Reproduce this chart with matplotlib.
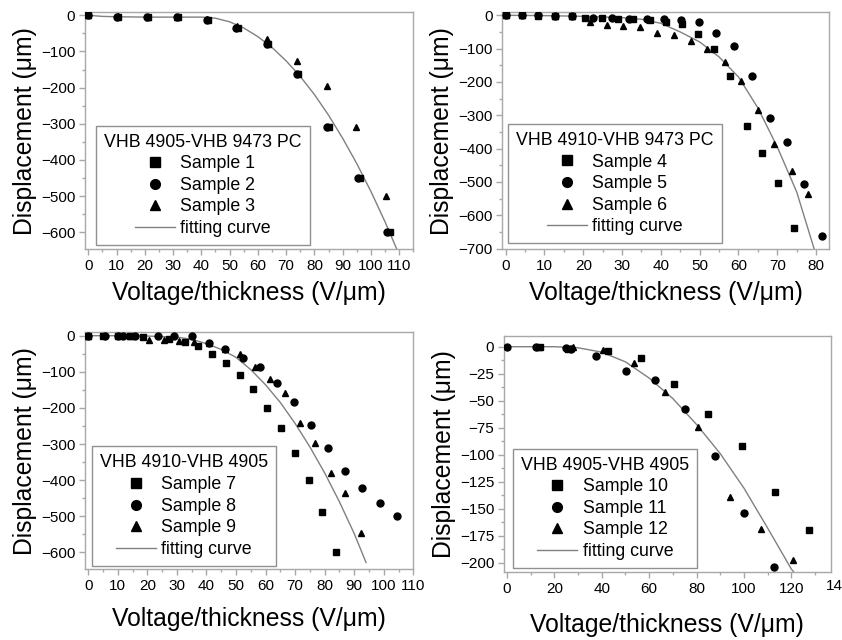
import matplotlib
matplotlib.use('Agg')
import matplotlib.pyplot as plt
from matplotlib.ticker import MultipleLocator

plt.rcParams['font.family'] = ['Liberation Sans', 'DejaVu Sans']

# ---- panel 1: VHB 4905-VHB 9473 PC ----
p1_s1_x = [0, 10.6, 21.2, 31.9, 42.5, 53, 63.7, 74.3, 85.3, 96.2, 106.6]
p1_s1_y = [0, -3.7, -5.5, -5.5, -13, -36, -80, -163, -310, -449, -598]
p1_s2_x = [0, 10.3, 20.8, 31.4, 42, 52.4, 63.2, 73.7, 84.4, 95.3, 105.7]
p1_s2_y = [0, -3.5, -5, -5, -12, -35, -80, -163, -310, -449, -598]
p1_s3_x = [0, 10.5, 21, 31.5, 42, 52.7, 63.1, 73.8, 84.3, 94.8, 105.3]
p1_s3_y = [0, -3, -4, -5, -10, -29, -66, -126, -195, -308, -499]
p1_fit_x = [0, 5, 10, 20, 30, 40, 45, 50, 55, 60, 65, 70, 75, 80, 85, 90, 95, 100, 105, 110]
p1_fit_y = [0, -3, -4, -5, -5, -5, -8, -18, -35, -59, -89, -126, -169, -219, -276, -340, -410, -487, -571, -662]

# ---- panel 2: VHB 4910-VHB 9473 PC ----
p2_s4_x = [0, 4.3, 8.4, 12.7, 17, 20.4, 24.7, 28.9, 32.9, 37.2, 41.3, 45.4, 49.5, 53.7, 57.9, 62.1, 66.1, 70.3, 74.3]
p2_s4_y = [0, 0, -1, -2, -2, -7, -8, -11, -12, -14, -20, -25, -55, -100, -182, -332, -412, -502, -637]
p2_s5_x = [0, 4.3, 8.4, 12.7, 17, 22.6, 27.3, 31.9, 36.3, 40.8, 45.2, 49.8, 54.2, 58.8, 63.4, 68, 72.4, 76.9, 81.6]
p2_s5_y = [0, 0, 0, -1, -1, -8, -8, -10, -10, -10, -13, -20, -52, -91, -182, -309, -379, -507, -662]
p2_s6_x = [0, 4.3, 8.4, 12.7, 17, 21.7, 26, 30.3, 34.6, 39.1, 43.4, 47.8, 51.9, 56.4, 60.7, 64.9, 69.2, 73.7, 78]
p2_s6_y = [0, 0, 0, -1, -1, -20, -29, -31, -34, -52, -60, -78, -101, -141, -196, -284, -386, -466, -536]
p2_fit_x = [0, 10, 20, 30, 35, 40, 45, 50, 55, 60, 65, 70, 75, 80]
p2_fit_y = [0, -1, -3, -7, -12, -24, -50, -80, -125, -185, -278, -395, -530, -720]

# ---- panel 3: VHB 4910-VHB 4905 ----
p3_s7_x = [0, 5, 10, 14, 18.5, 27.4, 32.6, 37.2, 41.9, 46.6, 51.3, 55.9, 60.5, 65.2, 69.9, 74.6, 79.2, 83.9]
p3_s7_y = [0, 0, 0, -1, -3, -9, -17, -28, -52, -77, -109, -147, -201, -255, -324, -400, -489, -600]
p3_s8_x = [0, 5.5, 10, 11.7, 15.7, 23.5, 29.1, 35, 40.8, 46.3, 52.2, 58.2, 63.8, 69.5, 75.4, 81.1, 86.8, 92.6, 98.6, 104.4]
p3_s8_y = [0, 0, 0, 0, -1, -1, 0, 0, -21, -38, -63, -88, -130, -185, -247, -311, -376, -423, -464, -499]
p3_s9_x = [0, 14, 20.7, 25.7, 30.8, 35.8, 40.8, 46.2, 51.5, 56.5, 61.5, 66.6, 71.6, 76.8, 82, 87, 92.3]
p3_s9_y = [0, -1, -12, -12, -14, -18, -21, -36, -51, -88, -121, -158, -243, -296, -380, -436, -546]
p3_fit_x = [0, 10, 20, 30, 35, 40, 45, 50, 55, 60, 65, 70, 75, 80, 85, 90, 94]
p3_fit_y = [0, 0, -1, -4, -10, -22, -38, -60, -94, -136, -185, -243, -308, -380, -460, -548, -628]

# ---- panel 4: VHB 4905-VHB 4905 ----
p4_s10_x = [14.1, 25.7, 42.5, 56.4, 70.7, 84.8, 99, 113, 127.4]
p4_s10_y = [0, -2.2, -3.7, -10.8, -34.6, -62.4, -92, -134.5, -169.7]
p4_s11_x = [0, 12.2, 25, 27, 37.6, 50.2, 62.4, 75.3, 87.6, 100.2, 112.5]
p4_s11_y = [0, -0.6, -1.5, -2, -8.7, -22.6, -30.9, -57.8, -101, -153.6, -203.7]
p4_s12_x = [13.5, 28, 40.4, 53.6, 66.9, 80.6, 94.2, 107.4, 120.7]
p4_s12_y = [0, 0, -3, -15.5, -42, -74, -139, -169, -198]
p4_fit_x = [0, 10, 20, 30, 40, 50, 60, 70, 80, 90, 100, 110, 120, 123]
p4_fit_y = [0, 0, 0, -1, -5, -14, -29, -48, -72, -99, -131, -168, -206, -214]

W, H = 842, 640
fig = plt.figure(figsize=(W / 100, H / 100), dpi=100)

GRAY = '#a8a8a8'
FIT = '#808080'


def px_axes(l, t, r, b):
    return fig.add_axes([l / W, 1 - b / H, (r - l) / W, (b - t) / H])


def panel(rect, xlim, ylim, xstep, ystep, series, fit, title, leg_box, xpad):
    ax = px_axes(*rect)
    ax.plot(fit[0], fit[1], color=FIT, lw=1.0, zorder=2)
    handles = []
    for (xs, ys, mk, lab) in series:
        h, = ax.plot(xs, ys, ls='none', marker=mk, ms=5, color='black',
                     mec='black', zorder=3, label=lab)
        handles.append(h)
    fit_h, = ax.plot([], [], color=FIT, lw=1.0, label='fitting curve')
    handles.append(fit_h)
    ax.set_xlim(*xlim)
    ax.set_ylim(*ylim)
    ax.xaxis.set_major_locator(MultipleLocator(xstep))
    ax.xaxis.set_minor_locator(MultipleLocator(xstep / 2))
    ax.yaxis.set_major_locator(MultipleLocator(ystep))
    ax.yaxis.set_minor_locator(MultipleLocator(ystep / 2))
    for sp in ax.spines.values():
        sp.set_color(GRAY)
        sp.set_linewidth(1.0)
    ax.tick_params(which='both', direction='out', color=GRAY, labelsize=11,
                   top=False, right=False)
    ax.tick_params(which='major', length=4, width=1, pad=3)
    ax.tick_params(which='minor', length=2.5, width=1)
    ax.set_xlabel('Voltage/thickness (V/μm)', fontsize=17.8, labelpad=xpad)
    ax.set_ylabel('Displacement (μm)', fontsize=17.8, labelpad=3)
    leg = ax.legend(handles, [h.get_label() for h in handles], title=title,
                    loc='lower left', bbox_to_anchor=leg_box, borderaxespad=0,
                    fontsize=12.8, title_fontsize=12.8, fancybox=False,
                    edgecolor='#909090', framealpha=1, handlelength=2.25,
                    handletextpad=0.3, labelspacing=0.26, markerscale=1.4,
                    borderpad=0.45)
    leg.get_frame().set_linewidth(1.0)
    return ax


panel((85, 12.3, 413.3, 249.3), (-1.17, 115), (-647, 8.3), 10, 100,
      [(p1_s1_x, p1_s1_y, 's', 'Sample 1'),
       (p1_s2_x, p1_s2_y, 'o', 'Sample 2'),
       (p1_s3_x, p1_s3_y, '^', 'Sample 3')],
      (p1_fit_x, p1_fit_y), 'VHB 4905-VHB 9473 PC', (0.034, 0.018), 6)

panel((502.3, 12.3, 829.3, 249.3), (-0.87, 83.4), (-702, 9), 10, 100,
      [(p2_s4_x, p2_s4_y, 's', 'Sample 4'),
       (p2_s5_x, p2_s5_y, 'o', 'Sample 5'),
       (p2_s6_x, p2_s6_y, '^', 'Sample 6')],
      (p2_fit_x, p2_fit_y), 'VHB 4910-VHB 9473 PC', (0.018, 0.025), 6)

panel((85, 332.3, 413.3, 569.3), (-1.1, 110), (-647, 9.4), 10, 100,
      [(p3_s7_x, p3_s7_y, 's', 'Sample 7'),
       (p3_s8_x, p3_s8_y, 'o', 'Sample 8'),
       (p3_s9_x, p3_s9_y, '^', 'Sample 9')],
      (p3_fit_x, p3_fit_y), 'VHB 4910-VHB 4905', (0.021, 0.014), 10)

ax4 = panel((504, 335.7, 830.7, 572.3), (-1.2, 136.6), (-209, 10.2), 20, 25,
            [(p4_s10_x, p4_s10_y, 's', 'Sample 10'),
             (p4_s11_x, p4_s11_y, 'o', 'Sample 11'),
             (p4_s12_x, p4_s12_y, '^', 'Sample 12')],
            (p4_fit_x, p4_fit_y), 'VHB 4905-VHB 4905', (0.028, 0.018), 12)
# the 140 label sits just past the frame in the original
ax4.text(140, -0.03, '140', transform=ax4.get_xaxis_transform(),
         ha='center', va='top', fontsize=11, clip_on=False)

fig.savefig('out.png', dpi=100)
